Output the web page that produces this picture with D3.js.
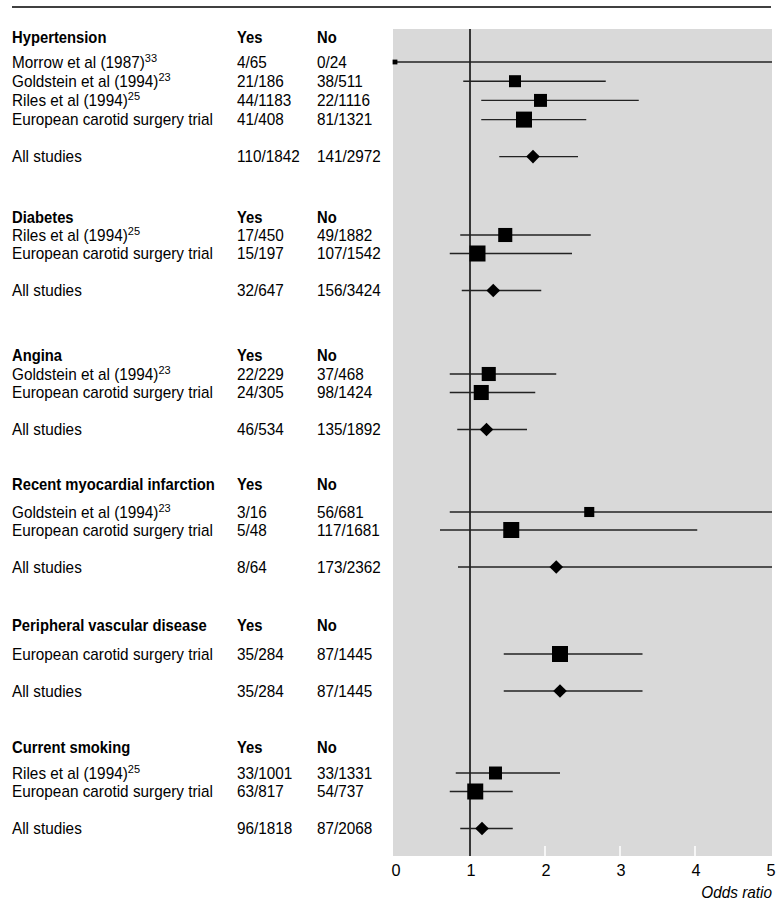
<!DOCTYPE html>
<html>
<head>
<meta charset="utf-8">
<script src="https://cdn.jsdelivr.net/npm/d3@7"></script>
<style>
  html, body { margin: 0; padding: 0; background: #fff; }
  svg { display: block; }
  text { font-family: "Liberation Sans", Arial, sans-serif; fill: #000; }
</style>
</head>
<body>
<svg id="chart" width="776" height="903"></svg>
<script>
// Risk factors: one header per factor, study rows beneath, then a pooled row.
const sections = ["Hypertension", "Diabetes", "Angina", "Recent myocardial infarction",
                  "Peripheral vascular disease", "Current smoking"];

// Study rows
const studySection = [0, 0, 0, 0, 1, 1, 2, 2, 3, 3, 4, 5, 5];
const studyName = ["Morrow et al (1987)", "Goldstein et al (1994)", "Riles et al (1994)",
  "European carotid surgery trial", "Riles et al (1994)", "European carotid surgery trial",
  "Goldstein et al (1994)", "European carotid surgery trial", "Goldstein et al (1994)",
  "European carotid surgery trial", "European carotid surgery trial", "Riles et al (1994)",
  "European carotid surgery trial"];
const studyRef = ["33", "23", "25", "", "25", "", "23", "", "23", "", "", "25", ""];
const studyYes = ["4/65", "21/186", "44/1183", "41/408", "17/450", "15/197", "22/229", "24/305",
  "3/16", "5/48", "35/284", "33/1001", "63/817"];
const studyNo = ["0/24", "38/511", "22/1116", "81/1321", "49/1882", "107/1542", "37/468", "98/1424",
  "56/681", "117/1681", "87/1445", "33/1331", "54/737"];
const studyOR = [0, 1.60, 1.94, 1.72, 1.47, 1.10, 1.25, 1.15, 2.59, 1.55, 2.20, 1.34, 1.07];
const studyLow = [0, 0.91, 1.15, 1.15, 0.87, 0.73, 0.73, 0.73, 0.73, 0.60, 1.45, 0.81, 0.73];
const studyHigh = [9.0, 2.81, 3.25, 2.55, 2.61, 2.36, 2.15, 1.87, 6.2, 4.03, 3.30, 2.20, 1.57];
const studyWeight = [30, 75, 81, 100, 88, 100, 88, 94, 63, 100, 100, 81, 100];

// Pooled ("All studies") rows, one per section
const allYes = ["110/1842", "32/647", "46/534", "8/64", "35/284", "96/1818"];
const allNo = ["141/2972", "156/3424", "135/1892", "173/2362", "87/1445", "87/2068"];
const allOR = [1.84, 1.31, 1.22, 2.15, 2.20, 1.16];
const allLow = [1.39, 0.89, 0.83, 0.84, 1.45, 0.87];
const allHigh = [2.44, 1.95, 1.76, 5.6, 3.30, 1.57];

// Axis
const tickValues = [0, 1, 2, 3, 4, 5];
const axisTitle = "Odds ratio";
const colYes = "Yes", colNo = "No";

// ---- layout ----
const FS = 16;
const colLabel = 12, colYesX = 237, colNoX = 317;
const headerY = [37, 217, 355, 484, 625, 747];
const firstGap = [25, 18, 19, 28, 29, 26];
const rowGap = [19.2, 18.5, 18.5, 18, 18, 18.5];
const pooledGap = 37;
const panel = { x0: 393, x1: 772, y0: 29, y1: 856 };

const svg = d3.select("#chart");
const x = d3.scaleLinear().domain([0, 5]).range([395, 770]);
const side = d3.scaleLinear().domain([0, 100]).range([0, 16]);

// Condensed type: measure regular-width lines and squeeze horizontally
function measure(str, bold) {
  const p = svg.append("text").attr("font-size", FS).attr("font-weight", bold ? "bold" : null).text(str);
  const w = p.node().getComputedTextLength();
  p.remove();
  return w;
}
const K = 201 / measure("European carotid surgery trial", false);
const KB = 203 / measure("Recent myocardial infarction", true);

function label(parent, x0, y0, str, opt = {}) {
  const k = opt.bold ? KB : K;
  const t = parent.append("text")
    .attr("transform", `translate(${x0},${y0}) scale(${k},1)`)
    .attr("dy", "0.35em")
    .attr("font-size", opt.size || FS);
  if (opt.bold) t.attr("font-weight", "bold");
  if (opt.italic) t.attr("font-style", "italic");
  if (opt.anchor) t.attr("text-anchor", opt.anchor);
  t.append("tspan").text(str);
  if (opt.sup) t.append("tspan").attr("font-size", 11.5).attr("dy", "-0.5em").text(opt.sup);
  return t;
}

// row positions
const studyY = [];
const pooledY = [];
sections.forEach((s, si) => {
  let y = headerY[si] + firstGap[si];
  let last = y;
  studySection.forEach((sec, i) => {
    if (sec === si) { studyY[i] = y; last = y; y += rowGap[si]; }
  });
  pooledY[si] = last + pooledGap;
});

// top rule
svg.append("line").attr("x1", 12).attr("x2", 771).attr("y1", 7).attr("y2", 7)
  .attr("stroke", "#000").attr("stroke-width", 1.5);

// plot panel
svg.append("rect").attr("x", panel.x0).attr("y", panel.y0)
  .attr("width", panel.x1 - panel.x0).attr("height", panel.y1 - panel.y0)
  .attr("fill", "#d9d9d9");

svg.append("clipPath").attr("id", "clip").append("rect")
  .attr("x", panel.x0).attr("y", panel.y0)
  .attr("width", panel.x1 - panel.x0).attr("height", panel.y1 - panel.y0);

// white inner ticks at the bottom of the panel
svg.append("g").selectAll("line").data(tickValues.filter(v => v > 1 && v < 5)).join("line")
  .attr("x1", d => x(d)).attr("x2", d => x(d))
  .attr("y1", panel.y1 - 10).attr("y2", panel.y1)
  .attr("stroke", "#fff").attr("stroke-width", 1.5);

// axis labels
const axisG = svg.append("g");
tickValues.forEach(v => label(axisG, x(v) + 1, 870, String(v), { anchor: "middle", size: 17 }));
label(axisG, 772, 892, axisTitle, { anchor: "end", italic: true });

// line of no effect
svg.append("line").attr("x1", x(1)).attr("x2", x(1))
  .attr("y1", panel.y0).attr("y2", panel.y1)
  .attr("stroke", "#000").attr("stroke-width", 1.5);

const marks = svg.append("g").attr("clip-path", "url(#clip)");

// confidence intervals
marks.selectAll("line.ci").data(studyOR.map((d, i) => i)).join("line")
  .attr("class", "ci")
  .attr("x1", i => x(studyLow[i])).attr("x2", i => x(studyHigh[i]))
  .attr("y1", i => studyY[i]).attr("y2", i => studyY[i])
  .attr("stroke", "#222").attr("stroke-width", 1.4);

marks.selectAll("line.pci").data(allOR.map((d, i) => i)).join("line")
  .attr("class", "pci")
  .attr("x1", i => x(allLow[i])).attr("x2", i => x(allHigh[i]))
  .attr("y1", i => pooledY[i]).attr("y2", i => pooledY[i])
  .attr("stroke", "#222").attr("stroke-width", 1.4);

// study squares
svg.append("g").selectAll("rect").data(studyOR.map((d, i) => i)).join("rect")
  .attr("x", i => x(studyOR[i]) - side(studyWeight[i]) / 2)
  .attr("y", i => studyY[i] - side(studyWeight[i]) / 2)
  .attr("width", i => side(studyWeight[i]))
  .attr("height", i => side(studyWeight[i]))
  .attr("fill", "#000");

// pooled diamonds
const dh = 6.8;
svg.append("g").selectAll("path").data(allOR.map((d, i) => i)).join("path")
  .attr("d", i => {
    const cx = x(allOR[i]), cy = pooledY[i];
    return `M${cx - dh},${cy}L${cx},${cy - dh}L${cx + dh},${cy}L${cx},${cy + dh}Z`;
  })
  .attr("fill", "#000");

// text table
const tbl = svg.append("g");

sections.forEach((s, si) => {
  const y = headerY[si];
  label(tbl, colLabel, y, s, { bold: true });
  label(tbl, colYesX, y, colYes, { bold: true });
  label(tbl, colNoX, y, colNo, { bold: true });

  label(tbl, colLabel, pooledY[si], "All studies");
  label(tbl, colYesX, pooledY[si], allYes[si]);
  label(tbl, colNoX, pooledY[si], allNo[si]);
});

studyName.forEach((name, i) => {
  const y = studyY[i];
  label(tbl, colLabel, y, name, { sup: studyRef[i] });
  label(tbl, colYesX, y, studyYes[i]);
  label(tbl, colNoX, y, studyNo[i]);
});
</script>
</body>
</html>
